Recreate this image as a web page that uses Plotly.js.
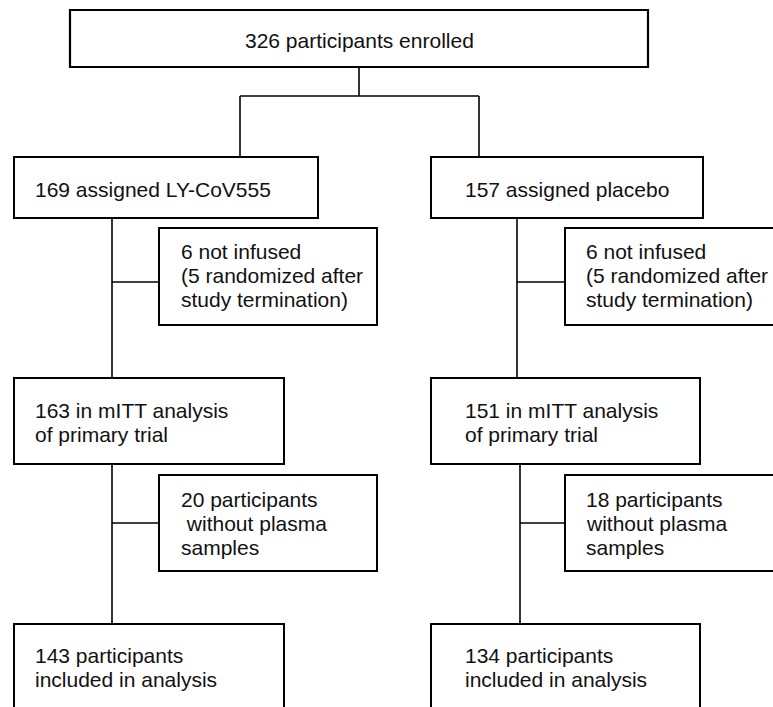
<!DOCTYPE html>
<html>
<head>
<meta charset="utf-8">
<script src="https://cdn.plot.ly/plotly-3.0.1.min.js"></script>
<style>
  html, body { margin: 0; padding: 0; background: #ffffff; }
  #chart { width: 773px; height: 707px; }
</style>
</head>
<body>
<div id="chart"></div>
<script>
// ---------- data (text of the flow chart) ----------
const topLabel     = ["326 participants enrolled"];
const armLabels    = [["169 assigned LY-CoV555"], ["157 assigned placebo"]];
const excl1Labels  = [["6 not infused", "(5 randomized after", "study termination)"],
                      ["6 not infused", "(5 randomized after", "study termination)"]];
const mittLabels   = [["163 in mITT analysis", "of primary trial"],
                      ["151 in mITT analysis", "of primary trial"]];
const excl2Labels  = [["20 participants", "\u00a0without plasma", "samples"],
                      ["18 participants", "without plasma", "samples"]];
const finalLabels  = [["143 participants", "included in analysis"],
                      ["134 participants", "included in analysis"]];

// ---------- layout geometry (pixel-like coordinates, y downward) ----------
const W = 773, H = 707;
const lineH = 24;           // spacing between text lines
const fontSize = 21;
const fontFamily = '"Liberation Sans", Arial, Helvetica, sans-serif';

const topBox = {x0: 70, x1: 648, y0: 10, y1: 67, tx: 359, align: 'center'};
// per-arm geometry: [left arm, right arm]
const armX    = [{x0: 14, x1: 318, tx: 33}, {x0: 431, x1: 703, tx: 463}];
const mainX   = [{x0: 14, x1: 284, tx: 33}, {x0: 431, x1: 700, tx: 463}];
const exclX   = [{x0: 159, x1: 377, tx: 179}, {x0: 565, x1: 800, tx: 584}];
const spineX1 = [112, 517];   // vertical between arm box and mITT box
const spineX2 = [112, 520];   // vertical between mITT box and final box
const rowArm   = {y0: 157, y1: 218};
const rowExcl1 = {y0: 228, y1: 325};
const rowMitt  = {y0: 378, y1: 464};
const rowExcl2 = {y0: 475, y1: 571};
const rowFinal = {y0: 624, y1: 710};
const splitY = 96, branchX = [240, 479];

const shapes = [];
const annotations = [];

function rect(x0, x1, y0, y1, w) {
  shapes.push({type: 'rect', xref: 'x', yref: 'y', x0, x1, y0, y1,
               line: {color: '#000', width: w}, fillcolor: 'rgba(0,0,0,0)'});
}
function seg(x0, y0, x1, y1) {
  shapes.push({type: 'line', xref: 'x', yref: 'y', x0, y0, x1, y1,
               line: {color: '#000', width: 1.6}});
}
function label(lines, tx, yc, align) {
  const n = lines.length;
  lines.forEach((t, i) => {
    const y = yc + (i - (n - 1) / 2) * lineH;
    annotations.push({xref: 'x', yref: 'y', x: tx, y: y, text: t, showarrow: false,
      xanchor: align === 'center' ? 'center' : 'left', yanchor: 'middle',
      font: {family: fontFamily, size: fontSize, color: '#111'}});
  });
}

// top box
rect(topBox.x0, topBox.x1, topBox.y0, topBox.y1, 2.2);
label(topLabel, topBox.tx, (topBox.y0 + topBox.y1) / 2 + 2, 'center');

// split connector
seg(topBox.tx, topBox.y1, topBox.tx, splitY);
seg(branchX[0], splitY, branchX[1], splitY);
branchX.forEach(x => seg(x, splitY, x, rowArm.y0));

for (let a = 0; a < 2; a++) {
  // arm box
  rect(armX[a].x0, armX[a].x1, rowArm.y0, rowArm.y1, 2);
  label(armLabels[a], armX[a].tx, (rowArm.y0 + rowArm.y1) / 2 + 2, 'left');
  // first exclusion
  rect(exclX[a].x0, exclX[a].x1, rowExcl1.y0, rowExcl1.y1, 2);
  label(excl1Labels[a], exclX[a].tx, (rowExcl1.y0 + rowExcl1.y1) / 2 - 1, 'left');
  seg(spineX1[a], rowArm.y1, spineX1[a], rowMitt.y0);
  seg(spineX1[a], 282, exclX[a].x0, 282);
  // mITT box
  rect(mainX[a].x0, mainX[a].x1, rowMitt.y0, rowMitt.y1, 2);
  label(mittLabels[a], mainX[a].tx, (rowMitt.y0 + rowMitt.y1) / 2 + 1, 'left');
  // second exclusion
  rect(exclX[a].x0, exclX[a].x1, rowExcl2.y0, rowExcl2.y1, 2);
  label(excl2Labels[a], exclX[a].tx, (rowExcl2.y0 + rowExcl2.y1) / 2, 'left');
  seg(spineX2[a], rowMitt.y1, spineX2[a], rowFinal.y0);
  seg(spineX2[a], 523, exclX[a].x0, 523);
  // final box
  rect(mainX[a].x0, mainX[a].x1, rowFinal.y0, rowFinal.y1, 2);
  label(finalLabels[a], mainX[a].tx, 667, 'left');
}

const layout = {
  width: W, height: H,
  margin: {l: 0, r: 0, t: 0, b: 0, pad: 0},
  paper_bgcolor: '#ffffff', plot_bgcolor: '#ffffff',
  xaxis: {range: [0, W], visible: false, fixedrange: true},
  yaxis: {range: [H, 0], visible: false, fixedrange: true},
  showlegend: false,
  shapes: shapes,
  annotations: annotations
};

Plotly.newPlot('chart', [], layout, {displayModeBar: false, staticPlot: true});
</script>
</body>
</html>
